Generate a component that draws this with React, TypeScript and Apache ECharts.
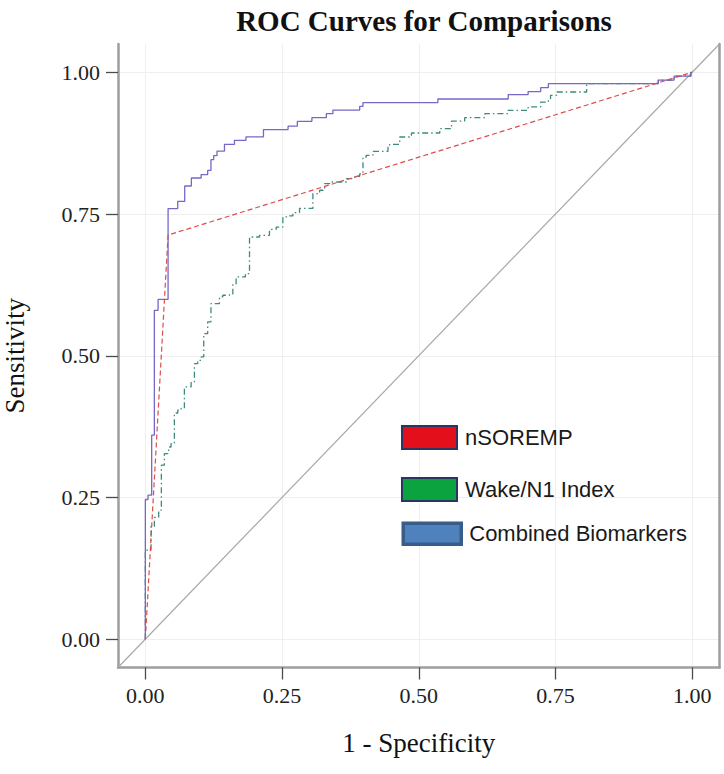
import React, { useEffect, useRef } from "react";
import * as echarts from "echarts";

const titleText = "ROC Curves for Comparisons";
const xName = "1 - Specificity";
const yName = "Sensitivity";
const tickValues = [0, 0.25, 0.5, 0.75, 1];
const tickLabels = ["0.00", "0.25", "0.50", "0.75", "1.00"];
const seriesNames = ["nSOREMP", "Wake/N1 Index", "Combined Biomarkers"];

// Combined Biomarkers (step curve, corner points)
const combinedX = [0, 0, 0.0049, 0.0116, 0.0165, 0.0233, 0.0416, 0.0592, 0.072, 0.0842, 0.102, 0.114, 0.12, 0.125, 0.131, 0.1447, 0.163, 0.184, 0.216, 0.261, 0.278, 0.3046, 0.331, 0.343, 0.392, 0.398, 0.535, 0.6636, 0.7, 0.723, 0.737, 0.938, 0.967, 0.9976, 1];
const combinedY = [0, 0.2464, 0.254, 0.3598, 0.5802, 0.5996, 0.7596, 0.7725, 0.7995, 0.8136, 0.8196, 0.827, 0.846, 0.853, 0.861, 0.873, 0.88, 0.886, 0.899, 0.905, 0.9136, 0.92, 0.927, 0.9335, 0.94, 0.9466, 0.953, 0.9607, 0.966, 0.973, 0.98, 0.9864, 0.9935, 1.0, 1.0];

// Wake/N1 Index (step curve)
const wakeX = [0, 0, 0.0104, 0.0165, 0.0244, 0.0293, 0.0348, 0.0427, 0.047, 0.0531, 0.0592, 0.0654, 0.0714, 0.0837, 0.0897, 0.0958, 0.102, 0.1068, 0.114, 0.12, 0.1355, 0.1416, 0.1538, 0.16, 0.166, 0.183, 0.1905, 0.2088, 0.227, 0.2394, 0.2515, 0.2637, 0.2698, 0.282, 0.3064, 0.3187, 0.328, 0.337, 0.3676, 0.3828, 0.392, 0.398, 0.404, 0.4163, 0.4438, 0.4469, 0.4652, 0.4866, 0.5385, 0.56, 0.584, 0.621, 0.6636, 0.7, 0.723, 0.737, 0.741, 0.752, 0.807, 0.938, 0.967, 0.9976, 1];
const wakeY = [0, 0.157, 0.199, 0.2146, 0.2275, 0.307, 0.3275, 0.339, 0.345, 0.399, 0.404, 0.407, 0.445, 0.454, 0.486, 0.492, 0.498, 0.539, 0.5596, 0.592, 0.6037, 0.6067, 0.609, 0.627, 0.639, 0.645, 0.7095, 0.7125, 0.723, 0.727, 0.745, 0.7466, 0.7526, 0.76, 0.786, 0.792, 0.8037, 0.8065, 0.8125, 0.8166, 0.821, 0.8506, 0.8536, 0.8607, 0.8695, 0.873, 0.8859, 0.893, 0.9007, 0.914, 0.92, 0.927, 0.933, 0.939, 0.9476, 0.9536, 0.9594, 0.9653, 0.98, 0.9864, 0.9935, 1.0, 1.0];

// nSOREMP (single threshold)
const soremX = [0, 0.0416, 1];
const soremY = [0, 0.713, 1];

// chance diagonal
const diagX = [-0.05, 1.05];
const diagY = [-0.05, 1.05];

const zip = (xs: number[], ys: number[]) => xs.map((x, i) => [x, ys[i]]);

export default function App() {
  const ref = useRef<HTMLDivElement>(null);
  useEffect(() => {
    document.body.style.margin = "0";
    document.body.style.background = "#ffffff";
    const chart = echarts.init(ref.current!, null, { renderer: "svg" });
    const serif = "'Liberation Serif', 'Times New Roman', serif";
    const sans = "'Liberation Sans', Arial, sans-serif";
    const axisGray = "#9e9e9e";
    const tickColor = "#4a4a4a";
    const legendBase = {
      orient: "vertical",
      icon: "rect",
      padding: 0,
      itemWidth: 55,
      itemHeight: 23,
      textStyle: { fontFamily: sans, fontSize: 22, color: "#1a1a1a", padding: [0, 0, 5, 3] },
      selectedMode: false,
    };
    chart.setOption({
      animation: false,
      backgroundColor: "#ffffff",
      title: {
        text: titleText,
        left: 419,
        top: 1,
        textAlign: "center",
        textStyle: { fontFamily: serif, fontWeight: "bold", fontSize: 29, color: "#111" },
      },
      legend: [
        {
          ...legendBase,
          data: [seriesNames[0]],
          left: 401,
          top: 425,
          itemStyle: { color: "#e3101b", borderColor: "#2a3563", borderWidth: 2 },
        },
        {
          ...legendBase,
          data: [seriesNames[1]],
          left: 401,
          top: 477,
          itemStyle: { color: "#0ba33f", borderColor: "#2a3563", borderWidth: 2 },
        },
        {
          ...legendBase,
          data: [seriesNames[2]],
          left: 401.5,
          top: 521.5,
          itemWidth: 58,
          itemHeight: 21,
          itemStyle: { color: "#4f81bd", borderColor: "#385d8a", borderWidth: 3.5 },
        },
      ],
      grid: { left: 118, right: 4.5, top: 44, bottom: 106.5, outerBoundsMode: "none", containLabel: false },
      xAxis: {
        type: "value",
        min: -0.05,
        max: 1.05,
        name: xName,
        nameLocation: "middle",
        nameGap: 62,
        nameTextStyle: { fontFamily: serif, fontSize: 27, color: "#111" },
        axisLine: { show: true, onZero: false, lineStyle: { color: axisGray, width: 2.5 } },
        axisTick: { show: true, length: 12, customValues: tickValues, lineStyle: { color: tickColor, width: 1.3 } },
        axisLabel: {
          customValues: tickValues,
          margin: 17,
          fontFamily: serif,
          fontSize: 22,
          color: "#222",
          formatter: (v: number) => tickLabels[tickValues.indexOf(v)] ?? v.toFixed(2),
        },
        splitLine: { show: true, lineStyle: { color: "#efefef", width: 1 } },
      },
      yAxis: [
        {
          type: "value",
          min: -0.05,
          max: 1.05,
          name: yName,
          nameLocation: "middle",
          nameGap: 90,
          nameTextStyle: { fontFamily: serif, fontSize: 27, color: "#111" },
          axisLine: { show: true, onZero: false, lineStyle: { color: axisGray, width: 2.5 } },
          axisTick: { show: true, length: 12, customValues: tickValues, lineStyle: { color: tickColor, width: 1.3 } },
          axisLabel: {
            customValues: tickValues,
            margin: 18,
            fontFamily: serif,
            fontSize: 22,
            color: "#222",
            formatter: (v: number) => tickLabels[tickValues.indexOf(v)] ?? v.toFixed(2),
          },
          splitLine: { show: true, lineStyle: { color: "#efefef", width: 1 } },
        },
        {
          type: "value",
          position: "right",
          min: -0.05,
          max: 1.05,
          axisLine: { show: true, onZero: false, lineStyle: { color: axisGray, width: 2.5 } },
          axisTick: { show: false },
          axisLabel: { show: false },
          splitLine: { show: false },
        },
      ],
      series: [
        {
          name: "diagonal",
          type: "line",
          data: zip(diagX, diagY),
          symbol: "none",
          silent: true,
          lineStyle: { color: "#a8a8a8", width: 1.2 },
        },
        {
          name: seriesNames[1],
          type: "line",
          step: "end",
          data: zip(wakeX, wakeY),
          symbol: "none",
          lineStyle: { color: "#3f8a7f", width: 1.3, type: [6, 3, 1.5, 3] },
        },
        {
          name: seriesNames[2],
          type: "line",
          step: "end",
          data: zip(combinedX, combinedY),
          symbol: "none",
          lineStyle: { color: "#7468c8", width: 1.3 },
        },
        {
          name: seriesNames[0],
          type: "line",
          data: zip(soremX, soremY),
          symbol: "none",
          lineStyle: { color: "#de4b4b", width: 1.2, type: [5, 3] },
        },
      ],
    });
    return () => chart.dispose();
  }, []);
  return <div ref={ref} style={{ width: 724, height: 774 }} />;
}
